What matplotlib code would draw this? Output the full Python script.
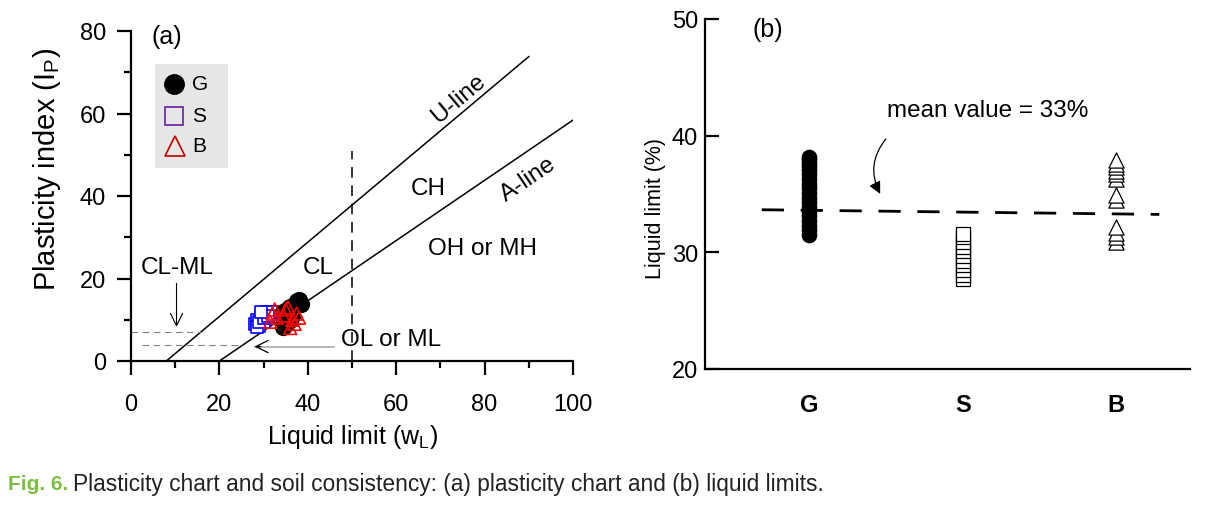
import matplotlib
matplotlib.use("Agg")
import matplotlib.pyplot as plt
import numpy as np

plt.rcParams['font.family'] = ['Liberation Sans', 'DejaVu Sans']

# ---------------- data ----------------
# (a) plasticity chart: liquid limit (wL), plasticity index (Ip)
g_wl = [34.5, 35.0, 35.5, 36.0, 36.5, 37.0, 37.5, 38.0, 35.0, 34.5, 36.0, 38.5]
g_ip = [8.2, 10.0, 12.5, 13.0, 11.0, 13.5, 14.5, 14.9, 9.0, 12.0, 10.0, 13.8]
s_wl = [28.0, 28.5, 29.0, 29.5, 30.0, 30.5, 31.0, 31.5, 32.0, 28.5, 29.0, 30.0, 31.0, 29.5]
s_ip = [9.0, 10.0, 8.5, 11.0, 9.5, 12.0, 10.5, 11.5, 12.0, 8.3, 9.5, 10.5, 11.0, 12.0]
b_wl = [31.5, 32.0, 32.5, 34.5, 35.0, 36.5, 37.0, 37.5, 38.0, 36.0, 35.5, 33.0]
b_ip = [9.5, 11.5, 12.5, 11.0, 12.5, 10.0, 9.0, 11.5, 10.5, 8.0, 13.0, 10.5]

# (b) liquid limits by group
groups = ['G', 'S', 'B']
g_ll = [31.5, 31.9, 32.3, 32.7, 33.1, 33.5, 33.9, 34.3, 34.7, 35.1, 35.5, 35.9,
        36.3, 36.7, 37.1, 37.4, 37.7, 38.0, 38.2]
s_ll = [27.7, 28.1, 28.5, 28.9, 29.3, 29.7, 30.1, 30.5, 30.9, 31.3, 31.6]
b_ll = [30.9, 31.3, 31.7, 32.2, 34.5, 34.9, 36.3, 36.7, 37.0, 37.3, 37.6, 37.9]
mean_x = [0.69, 3.28]
mean_y = [33.65, 33.25]

x_ticks_a = [0, 20, 40, 60, 80, 100]
y_ticks_a = [0, 20, 40, 60, 80]
y_ticks_b = [20, 30, 40, 50]

TXT = 17.5

fig = plt.figure(figsize=(12.05, 5.06), dpi=100)

# ---------------- panel (a) ----------------
ax = fig.add_axes([131/1205, 1-362/506, 442/1205, 330/506])
ax.set_xlim(0, 100)
ax.set_ylim(0, 80)
for s in ['top', 'right']:
    ax.spines[s].set_visible(False)
for s in ['left', 'bottom']:
    ax.spines[s].set_linewidth(1.6)
ax.set_xticks(x_ticks_a)
ax.set_yticks(y_ticks_a)
ax.set_xticks(np.arange(10, 100, 20), minor=True)
ax.set_yticks(np.arange(10, 80, 20), minor=True)
ax.tick_params(which='major', direction='out', length=10, width=1.6, labelsize=17)
ax.tick_params(axis='x', which='major', pad=13)
ax.tick_params(axis='y', which='major', pad=8)
ax.tick_params(which='minor', direction='out', length=5, width=1.6)
ax.set_xlabel('Liquid limit (w$_\\mathregular{L}$)', fontsize=18, labelpad=5)
ax.set_ylabel('Plasticity index (I$_\\mathregular{P}$)', fontsize=21, va='center')
ax.yaxis.set_label_coords(-84/442, (362-169)/330)

# A-line and U-line
xa = np.array([20, 100])
ax.plot(xa, 0.73*(xa-20), color='black', lw=1.1)
xu = np.array([8, 90])
ax.plot(xu, 0.9*(xu-8), color='black', lw=1.1)
# wL = 50 line
ax.plot([50, 50], [0, 51], color='black', lw=1.1, dashes=(7, 5))
# CL-ML boundaries
ax.plot([0, 7/0.9+8], [7, 7], color='gray', lw=0.8, dashes=(6, 4))
ax.plot([2.5, 4/0.73+20], [4, 4], color='gray', lw=0.8, dashes=(6, 4))

ax.scatter(s_wl, s_ip, marker='s', s=80, facecolors='white', edgecolors='blue', linewidths=1.2, zorder=3)
ax.scatter(g_wl, g_ip, marker='o', s=130, color='black', zorder=4)
ax.scatter(b_wl, b_ip, marker='^', s=85, facecolors='none', edgecolors='red', linewidths=1.2, zorder=5)

ax.annotate('', xy=(10.3, 7.6), xytext=(10.3, 19.5),
            arrowprops=dict(arrowstyle='->', color='black', lw=0.8, mutation_scale=22))
ax.text(10.4, 22.8, 'CL-ML', ha='center', va='center', fontsize=TXT)
ax.plot([28, 46], [3.5, 3.5], color='#aaaaaa', lw=1.2)
ax.annotate('', xy=(27.3, 3.5), xytext=(30, 3.5),
            arrowprops=dict(arrowstyle='->', color='black', lw=0.9, mutation_scale=22))
ax.text(47.5, 5.3, 'OL or ML', ha='left', va='center', fontsize=TXT)
ax.text(42.3, 22.8, 'CL', ha='center', va='center', fontsize=TXT)
ax.text(67.2, 42, 'CH', ha='center', va='center', fontsize=TXT)
ax.text(79.6, 27.4, 'OH or MH', ha='center', va='center', fontsize=TXT)
ax.text(74, 63.8, 'U-line', ha='center', va='center', fontsize=TXT, rotation=40)
ax.text(89.8, 44.3, 'A-line', ha='center', va='center', fontsize=TXT, rotation=34)
ax.text(8.0, 78.8, '(a)', ha='center', va='center', fontsize=18)

# legend box
fig.patches.append(plt.Rectangle((155/1205, 1-169/506), 73/1205, 104/506, transform=fig.transFigure,
                                 facecolor='#e6e6e6', edgecolor='none', zorder=0))
lx, ltx = 174/1205, 192/1205
fig.lines.append(plt.Line2D([lx], [1-85/506], marker='o', markersize=14, color='black', transform=fig.transFigure))
fig.lines.append(plt.Line2D([lx], [1-117/506], marker='s', markersize=13, markerfacecolor='none',
                            markeredgecolor='#7030a0', markeredgewidth=1.3, transform=fig.transFigure))
fig.lines.append(plt.Line2D([lx+1/1205], [1-147/506], marker='^', markersize=15, markerfacecolor='none',
                            markeredgecolor='#c00000', markeredgewidth=1.2, transform=fig.transFigure))
fig.text(ltx, 1-85/506, 'G', va='center', ha='left', fontsize=15)
fig.text(ltx, 1-117/506, 'S', va='center', ha='left', fontsize=15)
fig.text(ltx, 1-147/506, 'B', va='center', ha='left', fontsize=15)

# ---------------- panel (b) ----------------
bx = fig.add_axes([705/1205, 1-370/506, 485/1205, 350/506])
bx.set_xlim(0.32, 3.48)
bx.set_ylim(20, 50)
for s in ['top', 'right']:
    bx.spines[s].set_visible(False)
for s in ['left', 'bottom']:
    bx.spines[s].set_linewidth(1.6)
bx.set_yticks(y_ticks_b)
bx.set_xticks([1, 2, 3])
bx.set_xticklabels(groups, fontweight='bold')
bx.tick_params(axis='y', which='major', direction='in', length=10, width=1.6, labelsize=17, pad=5)
bx.tick_params(axis='x', direction='out', length=0, labelsize=17, pad=17)
bx.set_ylabel('Liquid limit (%)', fontsize=15.5, va='center')
bx.yaxis.set_label_coords(-50/485, (370-209)/350)

bx.plot(mean_x, mean_y, color='black', lw=2, dashes=(8, 6), zorder=2)
bx.scatter([1]*len(g_ll), g_ll, marker='o', s=105, color='black', zorder=3)
bx.scatter([2]*len(s_ll), s_ll, marker='s', s=100, facecolors='white', edgecolors='black', linewidths=0.9, zorder=3)
bx.scatter([3]*len(b_ll), b_ll, marker='^', s=120, facecolors='white', edgecolors='black', linewidths=0.9, zorder=3)

bx.text(1.505, 42.2, 'mean value = 33%', ha='left', va='center', fontsize=TXT)
bx.annotate('', xy=(1.47, 34.8), xytext=(1.51, 39.9),
            arrowprops=dict(arrowstyle='-|>', color='black', lw=0.9, mutation_scale=18,
                            connectionstyle='arc3,rad=0.35'))
bx.text(0.73, 49.1, '(b)', ha='center', va='center', fontsize=18)

# ---------------- caption ----------------
fig.text(8/1205, 1-485/506, 'Fig. 6.', color='#7cbf3f', fontsize=15, fontweight='bold', va='center', ha='left')
fig.text(73/1205, 1-485/506, 'Plasticity chart and soil consistency: (a) plasticity chart and (b) liquid limits.',
         color='#222222', fontsize=16.4, va='center', ha='left')

fig.savefig('out.png', dpi=100)
